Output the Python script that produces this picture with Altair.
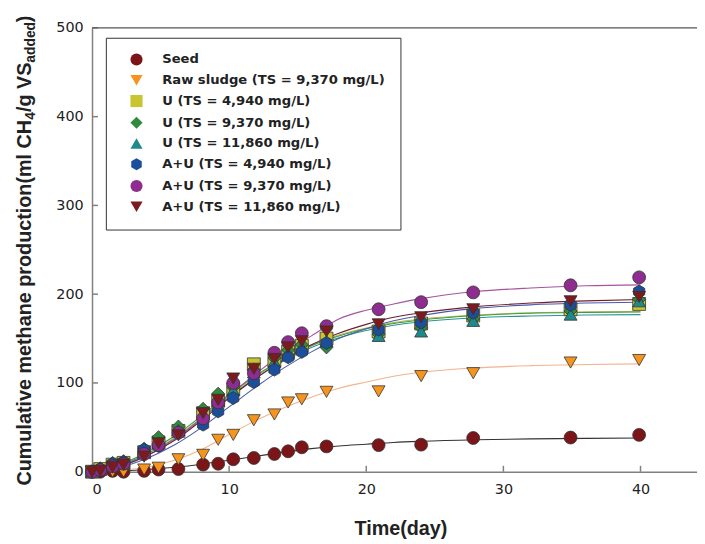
import altair as alt
import pandas as pd

# ---------------- data ----------------
series = [
    "Seed",
    "Raw sludge (TS = 9,370 mg/L)",
    "U (TS = 4,940 mg/L)",
    "U (TS = 9,370 mg/L)",
    "U (TS = 11,860 mg/L)",
    "A+U (TS = 4,940 mg/L)",
    "A+U (TS = 9,370 mg/L)",
    "A+U (TS = 11,860 mg/L)",
]

# sampling times (day)
times = [0, 0.6, 1.5, 2.3, 3.8, 4.85, 6.3, 8.1, 9.2, 10.3, 11.8, 13.3, 14.3, 15.3, 17.1, 20.9, 24, 27.8, 34.9, 39.9]

seed = [0, 0, 1, 0, 1, 2.5, 3, 8, 9, 14, 15.5, 20, 23, 27.5, 28.5, 30, 30.5, 38, 38.5, 41.5]
raw = [0, 0, 0, 0, 2.5, 4.5, 14, 19, 36, 41.5, 58, 64.5, 78, 81.6, 90, 90.5, 107.7, 111, 123, 125.8]
u4940 = [0, 3, 8, 10, 22, 33, 46, 66, 80, 93, 121, 125, 135, 142, 150, 158, 167, 176, 183, 189]
u9370 = [0, 4, 10, 12, 26, 39, 51, 71, 88, 95, 115, 128, 137, 143, 140, 155, 162, 172, 181, 194]
u11860 = [0, 3, 8, 10, 22, 33, 47, 65, 80, 92, 112, 124, 133, 140, 147, 153, 158, 170, 177, 192]
au4940 = [0, 3, 9, 11, 25, 29, 44, 53, 68, 83, 101, 115, 129, 135, 145, 160, 168, 179, 188, 203]
au9370 = [0, 2, 6, 9, 20, 30, 44, 60, 78, 100, 111, 134, 146, 156, 164, 183, 191, 202, 210, 219]
au11860 = [0, 1, 5, 8, 17, 32, 41, 66, 81, 105, 116, 127, 140, 147, 158, 166, 174, 183, 192, 197]

# fitted curves, read at these times
curve_times = [0, 2, 4, 6, 8, 10, 12, 14, 16, 18, 20, 22, 24, 28, 32, 36, 40]
seed_fit = [0, 1, 2.5, 5, 8.5, 13, 17.5, 22, 26, 29, 31, 33, 34.3, 36, 37, 37.6, 38]
raw_fit = [0, 1.5, 5, 13, 25, 42, 58, 72, 84, 94, 101, 107.5, 112, 117, 119.5, 120.8, 121.5]
u4940_fit = [0, 7, 20, 38, 61, 86, 108, 127, 142, 154, 162, 168, 172, 176.5, 179, 180, 180.5]
u9370_fit = [0, 8, 22, 40, 63, 87, 109, 127, 142, 153, 161, 167, 171, 176, 178.5, 179.5, 180]
u11860_fit = [0, 7, 20, 37, 60, 84, 106, 125, 140, 151, 159, 165, 169, 173.5, 175.5, 176.5, 177]
au4940_fit = [0, 5, 15, 30, 50, 73, 96, 117, 135, 150, 161, 170, 176, 184, 188, 190, 191]
au9370_fit = [0, 6, 18, 36, 60, 86, 111, 134, 153, 172, 182, 189, 195, 203, 207, 209.5, 210.5]
au11860_fit = [0, 6, 18, 35, 58, 83, 106, 126, 143, 156, 166, 174, 179, 186, 190, 192.5, 194]

x_ticks = [0, 10, 20, 30, 40]
y_ticks = [0, 100, 200, 300, 400, 500]

# ---------------- styling ----------------
fill_colors = ["#7B1518", "#F7941D", "#C9C531", "#2E8B3C", "#1E8A8C", "#1B4F9B", "#8E2C8F", "#7C1A1E"]
line_colors = ["#333333", "#F2B38E", "#BDB94A", "#3C9A46", "#2A9494", "#4B5BA8", "#A5559F", "#6E1F30"]
HEX = "M0,-1L0.866,-0.5L0.866,0.5L0,1L-0.866,0.5L-0.866,-0.5Z"
shapes = ["circle", "triangle-down", "square", "diamond", "triangle-up", HEX, "circle", "triangle-down"]

W, H = 612, 449
XMAX = 44.12

pts_vals = [seed, raw, u4940, u9370, u11860, au4940, au9370, au11860]
fit_vals = [seed_fit, raw_fit, u4940_fit, u9370_fit, u11860_fit, au4940_fit, au9370_fit, au11860_fit]
fit_names = [n + " fit" for n in series]

pts = pd.DataFrame(
    [{"t": t, "v": v, "s": name, "o": i} for i, (name, vals) in enumerate(zip(series, pts_vals)) for t, v in zip(times, vals)]
)
fits = pd.DataFrame(
    [{"t": t, "v": v, "f": name} for name, vals in zip(fit_names, fit_vals) for t, v in zip(curve_times, vals)]
)

xscale = alt.Scale(domain=[0, XMAX], nice=False, zero=False)
yscale = alt.Scale(domain=[0, 500], nice=False)

xaxis = alt.Axis(
    values=x_ticks, title="Time(day)", ticks=False, grid=False, labelPadding=11,
    titleX=312, titleY=64, titleBaseline="alphabetic", titleAlign="center",
)
yaxis = alt.Axis(values=y_ticks, title=None, ticks=False, grid=False, labelPadding=9)

legend = alt.Legend(
    orient="none", legendX=14, legendY=10, title=None, rowPadding=4,
    symbolStrokeColor="#333333", symbolStrokeWidth=1,
)

lines = alt.Chart(fits).mark_line(strokeWidth=1.1, interpolate="monotone", clip=False).encode(
    x=alt.X("t:Q", scale=xscale, axis=xaxis),
    y=alt.Y("v:Q", scale=yscale, axis=yaxis),
    stroke=alt.Stroke("f:N", scale=alt.Scale(domain=fit_names, range=line_colors), legend=None),
    detail="f:N",
)

points = alt.Chart(pts).mark_point(
    filled=True, size=170, stroke="#333333", strokeWidth=0.8, opacity=1, clip=False
).encode(
    x="t:Q",
    y="v:Q",
    fill=alt.Fill("s:N", scale=alt.Scale(domain=series, range=fill_colors), legend=legend),
    shape=alt.Shape("s:N", scale=alt.Scale(domain=series, range=shapes), legend=legend),
    order="o:Q",
)

ytk = alt.Chart(pd.DataFrame({"v": y_ticks[1:]})).mark_rule(color="#808080", strokeWidth=1.5).encode(
    y="v:Q", x=alt.value(0), x2=alt.value(6)
)
xtk = alt.Chart(pd.DataFrame({"t": x_ticks[1:]})).mark_rule(color="#808080", strokeWidth=1.5).encode(
    x="t:Q", y=alt.value(H), y2=alt.value(H - 6)
)
one = pd.DataFrame({"a": [0]})
frame = alt.Chart(one).mark_rule(color="#555555", strokeWidth=1.2).encode(
    x=alt.value(0), x2=alt.value(W), y=alt.value(0)
)

# y-axis title with subscripts, built from pieces
title_pieces = [
    ("Cumulative methane production(ml CH", 20, -62, 463),
    ("4", 14, -57.5, 93),
    ("/g VS", 20, -62, 85.2),
    ("added", 14, -57.5, 35.2),
    (")", 20, -62, -5.8),
]
title_layers = [
    alt.Chart(one).mark_text(
        text=txt, fontSize=fs, angle=270, align="left", baseline="alphabetic",
        font="Liberation Sans", fontWeight="bold", color="#222222",
    ).encode(x=alt.value(px), y=alt.value(py))
    for txt, fs, px, py in title_pieces
]

chart = alt.layer(lines, points, ytk, xtk, frame, *title_layers).properties(
    width=W, height=H,
    autosize=alt.AutoSizeParams(type="none"),
    padding={"left": 85, "top": 17, "right": 0, "bottom": 70},
).configure_view(strokeWidth=0).configure_axis(
    domainColor="#808080", domainWidth=1.5,
    labelFont="DejaVu Sans", labelFontSize=14.5, labelColor="#222222",
    titleFont="Liberation Sans", titleFontSize=20, titleFontWeight="bold", titleColor="#222222",
).configure_legend(
    padding=15, strokeColor="#333333", fillColor="white",
    labelFont="DejaVu Sans", labelFontWeight="bold", labelFontSize=13.3, labelColor="#222222",
    symbolSize=150, symbolOpacity=1,
    labelOffset=19, symbolOffset=9, labelLimit=400,
)

chart.save("out.html", embed_options={"renderer": "svg", "actions": False})
